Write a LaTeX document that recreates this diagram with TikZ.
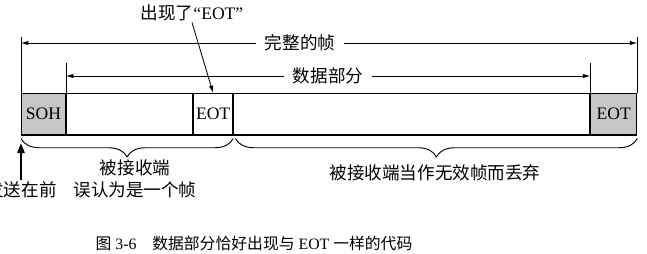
\documentclass[tikz,border=0pt]{standalone}
\usepackage{fontspec}
\setmainfont{Liberation Serif}
\newfontfamily\cjk{Noto Sans CJK SC}
\usetikzlibrary{arrows.meta,positioning,decorations.pathreplacing}

\tikzset{
  field/.style={draw, line width=0.9pt, minimum height=1.23cm, inner sep=0pt},
  shaded/.style={fill=gray!45},
  lbl/.style={font=\cjk\fontsize{15}{19}\selectfont, inner sep=1pt},
  gap/.style={inner xsep=0.27cm},
  dim/.style={->, line width=0.7pt},
  brc/.style={decorate, decoration={brace, mirror, amplitude=0.55cm}, line width=0.8pt},
}

\begin{document}
\begin{tikzpicture}[>={Latex[length=2.2mm,width=1.3mm]}, x=0.03cm, y=-0.03cm, font=\fontsize{15}{18}\selectfont]
  \useasboundingbox (0,0) rectangle (647,254);
  % the frame: SOH, data, a stray EOT, data, EOT
  \node[field, shaded, minimum width=1.32cm, anchor=north west] (soh) at (21,93) {SOH};
  \node[field, minimum width=3.78cm, right=0pt of soh] (dat1) {};
  \node[field, minimum width=1.17cm, right=0pt of dat1] (eot1) {EOT};
  \node[field, minimum width=10.68cm, right=0pt of eot1] (dat2) {};
  \node[field, shaded, minimum width=1.38cm, right=0pt of dat2] (eot2) {EOT};
  \draw[line width=1.6pt] (soh.south west) -- (eot2.south east);

  % dimension lines above
  \node[lbl, gap] (whole) at (300,43) {完整的帧};
  \draw[line width=0.7pt] (soh.north west) -- ++(0,-56);
  \draw[line width=0.7pt] (eot2.north east) -- ++(0,-56);
  \draw[dim] (whole.west) -- (whole.west -| soh.west);
  \draw[dim] (whole.east) -- (whole.east -| eot2.east);

  \node[lbl, gap] (data) at (328,76) {数据部分};
  \draw[line width=0.7pt] (dat1.north west) -- ++(0,-30);
  \draw[line width=0.7pt] (dat2.north east) -- ++(0,-30);
  \draw[dim] (data.west) -- (data.west -| dat1.west);
  \draw[dim] (data.east) -- (data.east -| dat2.east);

  \node[lbl] (note) at (192,13) {出现了{\rmfamily “EOT”}};
  \draw[->, line width=0.7pt] (note.south) -- (eot1.north);

  % braces below
  \draw[brc] ([yshift=-3pt]soh.south west) -- ([yshift=-3pt]eot1.south east);
  \draw[brc] ([xshift=2pt,yshift=-3pt]eot1.south east) -- ([yshift=-3pt]eot2.south east);
  \node[lbl, align=center] (misread) at (135,179) {被接收端\\误认为是一个帧};
  \node[lbl] (discard) at (435,173) {被接收端当作无效帧而丢弃};

  \node[lbl, anchor=east] (send) at (58,190) {发送在前};
  \draw[-{Triangle[length=3mm,width=2.2mm]}, line width=1.6pt] (send.north -| soh.west) -- ([yshift=-0.24cm]soh.south west);

  \node[font=\fontsize{13.5}{16}\selectfont] (caption) at (254,243) {{\cjk 图} 3-6\quad{\cjk 数据部分恰好出现与} EOT {\cjk 一样的代码}};
\end{tikzpicture}
\end{document}
